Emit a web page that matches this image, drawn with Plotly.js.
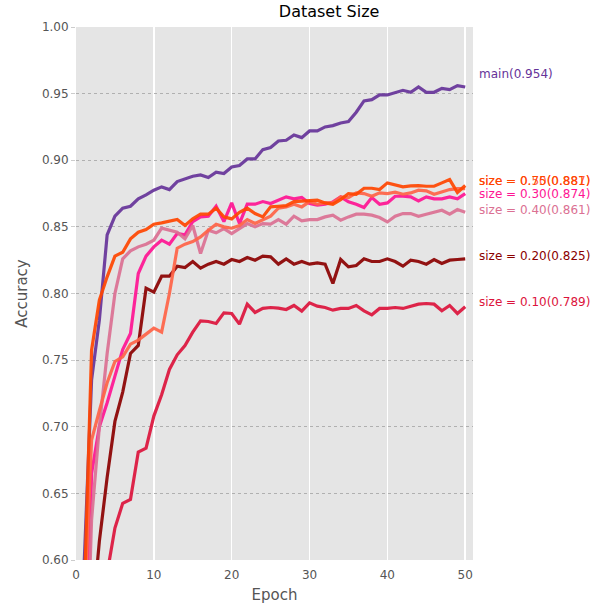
<!DOCTYPE html>
<html>
<head>
<meta charset="utf-8">
<script src="https://cdn.plot.ly/plotly-3.0.1.min.js"></script>
<style>html,body{margin:0;padding:0;background:#fff;}#chart{width:605px;height:606px;}</style>
</head>
<body>
<div id="chart"></div>
<script>
const epochs = [1,2,3,4,5,6,7,8,9,10,11,12,13,14,15,16,17,18,19,20,21,22,23,24,25,26,27,28,29,30,31,32,33,34,35,36,37,38,39,40,41,42,43,44,45,46,47,48,49,50];

const seriesNames = ["main", "size = 0.10", "size = 0.20", "size = 0.30", "size = 0.40", "size = 0.50", "size = 0.75"];
const seriesLabels = ["main(0.954)", "size = 0.10(0.789)", "size = 0.20(0.825)", "size = 0.30(0.874)", "size = 0.40(0.861)", "size = 0.50(0.887)", "size = 0.75(0.881)"];

const accMain = [0.59,0.735,0.78,0.844,0.858,0.864,0.8655,0.871,0.874,0.8775,0.88,0.878,0.884,0.886,0.888,0.889,0.887,0.891,0.89,0.895,0.896,0.901,0.901,0.908,0.9095,0.9145,0.915,0.919,0.917,0.922,0.922,0.925,0.926,0.928,0.929,0.936,0.9445,0.9455,0.949,0.949,0.9505,0.9525,0.951,0.955,0.951,0.951,0.954,0.953,0.956,0.955];
const acc010 = [0.40,0.45,0.50,0.59,0.624,0.6425,0.6455,0.681,0.684,0.708,0.724,0.743,0.754,0.761,0.771,0.7795,0.779,0.7775,0.7855,0.785,0.777,0.792,0.7858,0.7888,0.7895,0.789,0.788,0.791,0.7868,0.793,0.7905,0.7895,0.7875,0.7888,0.7888,0.791,0.787,0.784,0.7888,0.7888,0.7895,0.7888,0.7905,0.792,0.7925,0.792,0.787,0.791,0.785,0.79];
const acc020 = [0.45,0.55,0.614,0.662,0.704,0.726,0.755,0.761,0.804,0.801,0.813,0.813,0.8205,0.8195,0.824,0.819,0.822,0.824,0.822,0.8255,0.824,0.827,0.825,0.828,0.8275,0.822,0.826,0.822,0.824,0.822,0.823,0.822,0.8075,0.8255,0.82,0.821,0.826,0.824,0.824,0.826,0.824,0.8205,0.825,0.824,0.822,0.8255,0.8225,0.825,0.8255,0.826];
const acc030 = [0.448,0.665,0.70,0.718,0.738,0.758,0.77,0.815,0.828,0.835,0.84,0.837,0.845,0.844,0.854,0.8575,0.858,0.8655,0.854,0.868,0.8525,0.867,0.867,0.869,0.8675,0.87,0.8725,0.871,0.872,0.8675,0.8663,0.867,0.8687,0.8725,0.8688,0.867,0.8645,0.872,0.867,0.868,0.873,0.873,0.8725,0.8695,0.8725,0.871,0.871,0.8725,0.871,0.875];
const acc040 = [0.45,0.63,0.70,0.755,0.80,0.826,0.832,0.835,0.837,0.84,0.849,0.8475,0.846,0.841,0.851,0.83,0.8475,0.8455,0.8487,0.845,0.849,0.8525,0.85,0.8525,0.852,0.8555,0.852,0.858,0.8545,0.8555,0.8555,0.8575,0.8588,0.855,0.8575,0.8595,0.8595,0.8588,0.857,0.8537,0.858,0.86,0.86,0.858,0.8595,0.861,0.8625,0.8595,0.863,0.861];
const acc050 = [0.5515,0.69,0.712,0.733,0.749,0.7525,0.762,0.765,0.7695,0.774,0.771,0.80,0.834,0.837,0.839,0.8425,0.8475,0.852,0.85,0.849,0.851,0.8555,0.8525,0.8555,0.858,0.864,0.865,0.867,0.865,0.869,0.867,0.868,0.868,0.8725,0.872,0.8755,0.875,0.873,0.8755,0.875,0.876,0.8745,0.8755,0.8775,0.877,0.8745,0.876,0.878,0.8787,0.8787];
const acc075 = [0.56,0.7575,0.795,0.8125,0.828,0.831,0.841,0.846,0.848,0.852,0.853,0.854,0.8555,0.851,0.856,0.8595,0.8595,0.864,0.8575,0.856,0.861,0.864,0.86,0.8575,0.865,0.8655,0.866,0.869,0.8695,0.87,0.87,0.868,0.867,0.8705,0.875,0.8745,0.879,0.879,0.878,0.883,0.8818,0.88,0.8808,0.881,0.8805,0.8805,0.883,0.8855,0.8758,0.881];

const seriesValues = [accMain, acc010, acc020, acc030, acc040, acc050, acc075];
const xTicks = [0,10,20,30,40,50];
const yTicks = [0.60,0.65,0.70,0.75,0.80,0.85,0.90,0.95,1.00];
const yTickText = ["0.60","0.65","0.70","0.75","0.80","0.85","0.90","0.95","1.00"];

// styling / placement (not data)
const colors = ["#663399", "#dc143c", "#8b0000", "#ff1493", "#db7093", "#ff6347", "#ff4500"];
const labelY = [0.965, 0.7935, 0.828, 0.8745, 0.8625, 0.8843, 0.8843];

const traces = seriesNames.map((name, i) => ({
  x: epochs,
  y: seriesValues[i],
  name: name,
  type: "scatter",
  mode: "lines",
  line: {color: colors[i], width: 3.2},
  opacity: 0.92,
  hoverinfo: "skip"
}));

const annotations = seriesLabels.map((t, i) => ({
  text: t,
  xref: "paper", yref: "y",
  x: 1.01, y: labelY[i],
  xanchor: "left", yanchor: "middle",
  showarrow: false,
  font: {family: "DejaVu Sans", size: 12, color: colors[i]}
}));

const layout = {
  width: 605, height: 606,
  margin: {l: 76, r: 132, t: 27, b: 46, pad: 0},
  paper_bgcolor: "#ffffff",
  plot_bgcolor: "#e5e5e5",
  showlegend: false,
  font: {family: "DejaVu Sans", color: "#555555"},
  title: {
    text: "Dataset Size",
    font: {family: "DejaVu Sans", size: 16, color: "#000000"},
    xref: "container", yref: "container",
    x: 0.544, y: 0.982, xanchor: "center", yanchor: "middle"
  },
  xaxis: {
    range: [0, 51],
    tickvals: xTicks,
    ticktext: xTicks.map(String),
    showgrid: true, gridcolor: "#ffffff", gridwidth: 1.5,
    zeroline: false, showline: false,
    ticks: "",
    ticklabelstandoff: 6,
    tickfont: {family: "DejaVu Sans", size: 12, color: "#555555"},
    title: {text: "Epoch", font: {family: "DejaVu Sans", size: 15, color: "#555555"}, standoff: 8}
  },
  yaxis: {
    range: [0.6, 1.0],
    tickvals: yTicks,
    ticktext: yTickText,
    showgrid: true, gridcolor: "#b0b0b0", gridwidth: 1, griddash: "dot",
    zeroline: false, showline: false,
    ticks: "outside", ticklen: 4, tickcolor: "#cccccc",
    tickfont: {family: "DejaVu Sans", size: 12, color: "#555555"},
    title: {text: "Accuracy", font: {family: "DejaVu Sans", size: 15, color: "#555555"}, standoff: 10}
  },
  annotations: annotations
};

Plotly.newPlot("chart", traces, layout, {displayModeBar: false, staticPlot: true});
</script>
</body>
</html>
